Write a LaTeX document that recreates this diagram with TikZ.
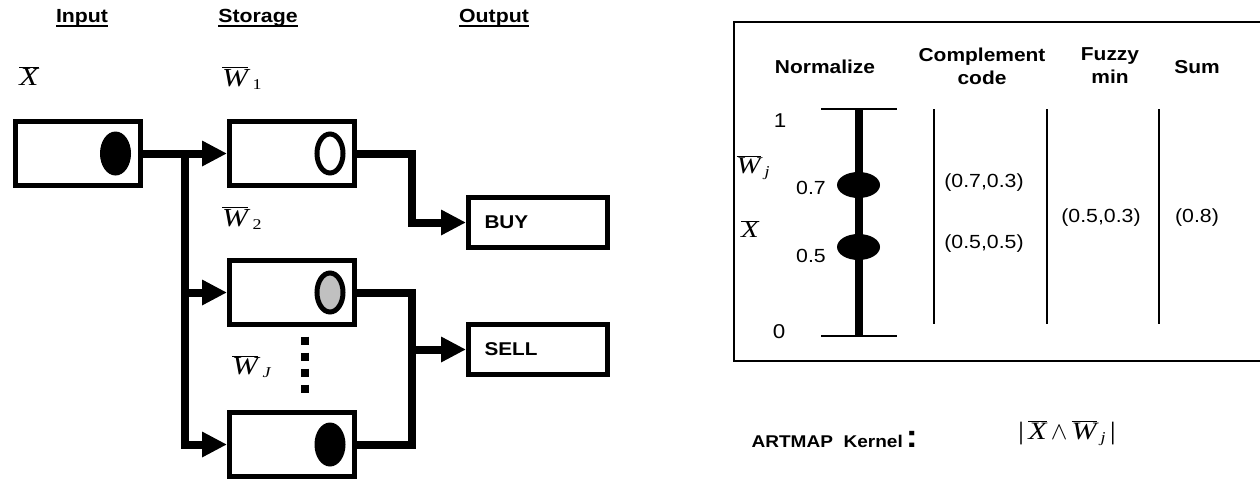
\documentclass[tikz,border=0pt]{standalone}
\usepackage{fontspec}
\setmainfont{Liberation Sans}[FakeStretch=1.12]
\newfontfamily\tnr{Liberation Serif}[FakeStretch=1.2]
\usetikzlibrary{arrows.meta,shapes.geometric,calc}
\newcommand{\vbar}[1]{$\overline{\mbox{\tnr\itshape #1}}$}
\newcommand{\vsub}[1]{\,\raisebox{-3pt}{\fontsize{15}{15}\selectfont\tnr #1}}
\newcommand{\hdline}[1]{\setbox0\hbox{#1}\rlap{\rule[-4pt]{\wd0}{1.8pt}}\box0}
\tikzset{
  cell/.style={draw, line width=5pt, minimum width=125pt, minimum height=64pt, inner sep=0pt},
  outbox/.style={draw, line width=5pt, text width=107pt, inner xsep=16pt, minimum height=50pt,
    align=left, font=\bfseries\fontsize{18.5}{22}\selectfont},
  blob/.style={ellipse, fill=black, minimum width=31pt, minimum height=44pt, inner sep=0pt},
  ring/.style={ellipse, draw, line width=5pt, minimum width=26pt, minimum height=39pt, inner sep=0pt},
  conn/.style={line width=8pt},
  arr/.style={-{Triangle[length=25pt,width=24pt]}},
  hdr/.style={font=\bfseries\fontsize{19}{23}\selectfont},
  hdrr/.style={font=\bfseries\fontsize{18.7}{23}\selectfont, align=center},
  vec/.style={font=\fontsize{26}{28}\selectfont, inner sep=0pt},
  val/.style={font=\fontsize{19}{22}\selectfont, inner sep=0pt},
  rule/.style={line width=1.8pt},
}

\begin{document}
\begin{tikzpicture}[x=1pt, y=-1pt]
  \useasboundingbox (0,0) rectangle (1260,479);

  % Headings
  \node[hdr, anchor=base] (hin) at (82,23) {\hdline{Input}};
  \node[hdr, anchor=base] (hst) at (258,23) {\hdline{Storage}};
  \node[hdr, anchor=base] (hout) at (494,23) {\hdline{Output}};

  % Define nodes
  \node[cell] (in) at (78,153.5) {};
  \node[blob] (in-dot) at ([xshift=-27.5pt]in.east) {};
  \node[vec] (lx) at (29,76) {\vbar{X}};

  \node[cell] (st1) at (292,153.5) {};
  \node[ring] (st1-dot) at ([xshift=-27pt]st1.east) {};
  \node[vec, anchor=west] (lw1) at (222,78) {\vbar{W}\vsub{1}};

  \node[cell] (st2) at (292,292.5) {};
  \node[ring, fill={rgb,255:red,192;green,192;blue,192}] (st2-dot) at ([xshift=-27pt]st2.east) {};
  \node[vec, anchor=west] (lw2) at (222,218) {\vbar{W}\vsub{2}};

  \node[cell] (stJ) at (292,444.5) {};
  \node[blob] (stJ-dot) at ([xshift=-27pt]stJ.east) {};
  \node[vec, anchor=west] (lwJ) at (232,367) {\vbar{W}\vsub{\itshape J}};
  \draw[line width=8pt, dash pattern=on 8pt off 8pt] (305,336.5) -- (305,392.5);

  \node[outbox] (buy) at (538,222.5) {BUY};
  \node[outbox] (sell) at (538,349.5) {SELL};

  % Connect the nodes
  \coordinate (split) at ($(in.east)!0.5!(st1.west)$);
  \draw[conn, arr] (in.east) -- (st1.west);
  \draw[conn, arr] (split) |- (st2.west);
  \draw[conn, arr] (split) |- (stJ.west);
  \draw[conn, arr] (st1.east) -| ($(st1.east)!0.5!(buy.west)$) |- (buy.west);
  \coordinate (jn) at ([xshift=-54.5pt]sell.west);
  \draw[conn] (st2.east) -| (jn);
  \draw[conn] (stJ.east) -| (jn);
  \draw[conn, arr] (jn) -- (sell.west);

  % Kernel panel
  \draw[line width=2pt] (1300,22) -| (734,361) -- (1300,361);
  \node[hdrr, anchor=base] (norm) at (825,73) {Normalize};
  \node[hdrr] (comp) at (982,66) {Complement\\code};
  \node[hdrr] (fuzz) at (1110,66) {Fuzzy\\min};
  \node[hdrr, anchor=base] (sum) at (1197,73) {Sum};

  \coordinate (top) at (859,109);
  \coordinate (bot) at (859,336);
  \draw[line width=8pt] (top) -- (bot);
  \draw[rule] ([xshift=-38pt]top) -- ([xshift=38pt]top);
  \draw[rule] ([xshift=-38pt]bot) -- ([xshift=38pt]bot);
  \node[ellipse, fill=black, minimum width=43pt, minimum height=26pt, inner sep=0pt] (pw) at (858.5,185) {};
  \node[ellipse, fill=black, minimum width=43pt, minimum height=26pt, inner sep=0pt] (px) at (858.5,247) {};
  \node[val, font=\fontsize{20}{22}\selectfont] (one) at (780,121) {1};
  \node[val, font=\fontsize{20}{22}\selectfont] (zero) at (779,332) {0};
  \node[val] (v7) at (811,188) {0.7};
  \node[val] (v5) at (811,256) {0.5};
  \node[vec, font=\fontsize{24}{26}\selectfont] (lwj) at (753,168) {\vbar{W}\vsub{\itshape j}};
  \node[vec, font=\fontsize{24}{26}\selectfont] (lxr) at (750,229) {\vbar{X}};

  \draw[rule] (934,109) -- (934,324);
  \draw[rule] (1047,109) -- (1047,324);
  \draw[rule] (1159,109) -- (1159,324);
  \node[val] (cc1) at (984,183) {(0.7,0.3)};
  \node[val] (cc2) at (984,244) {(0.5,0.5)};
  \node[val] (fm) at (1101,218) {(0.5,0.3)};
  \node[val] (sm) at (1197,218) {(0.8)};

  \node[anchor=base west, font=\bfseries\fontsize{17}{20}\selectfont] (kern) at (748,447)
    {ARTMAP\ \ Kernel\hspace{3pt}{\fontsize{32}{32}\selectfont:}};
  \node[vec, font=\fontsize{25}{27}\selectfont] (kf) at (1067,433)
    {{\tnr|}\,\vbar{X}\,$\wedge$\,\vbar{W}\vsub{\itshape j}\,{\tnr|}};
\end{tikzpicture}
\end{document}
